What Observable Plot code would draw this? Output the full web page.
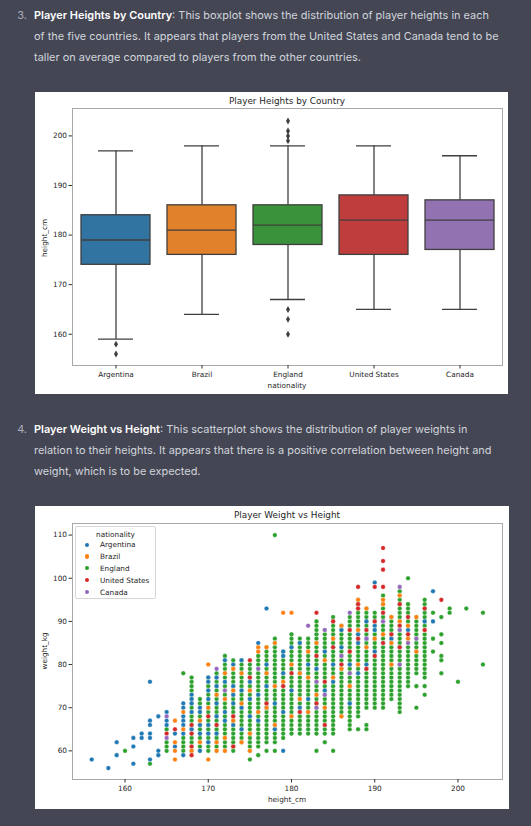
<!DOCTYPE html>
<html><head><meta charset="utf-8">
<script src="https://cdn.jsdelivr.net/npm/d3@7"></script>
<script src="https://cdn.jsdelivr.net/npm/@observablehq/plot@0.6"></script>
<style>
html,body{margin:0;padding:0;background:#444654;width:531px;height:826px;overflow:hidden;position:relative;}
.txt{position:absolute;left:34px;color:#d1d5db;font-family:Inter,"Noto Sans",sans-serif;font-size:10.95px;line-height:21px;white-space:nowrap;}
.txt b{color:#fff;font-weight:600;}
.num{position:absolute;left:12px;width:15px;text-align:right;color:#acacbe;font-family:Inter,"Noto Sans",sans-serif;font-size:10.95px;line-height:21px;}
.card{position:absolute;background:#fff;}
.card svg{position:absolute;left:0;top:0;}
.lab{position:absolute;font-family:'DejaVu Sans',sans-serif;color:#262626;white-space:nowrap;transform:translate(-50%,-50%);}
.legend{position:absolute;border:1px solid #d6d6d6;border-radius:2px;background:rgba(255,255,255,0.85);font-family:'DejaVu Sans',sans-serif;font-size:7.3px;color:#262626;}
.legend .row{position:absolute;left:0;white-space:nowrap;}
.legend .dot{position:absolute;width:4.4px;height:4.4px;border-radius:50%;}
</style>
</head>
<body>
<div class="num" style="top:5px">3.</div>
<div class="txt" style="top:5px"><b>Player Heights by Country</b>: This boxplot shows the distribution of player heights in each<br>of the five countries. It appears that players from the United States and Canada tend to be<br>taller on average compared to players from the other countries.</div>

<div class="card" id="box" style="left:35px;top:92px;width:473px;height:302px;"></div>

<div class="num" style="top:419px">4.</div>
<div class="txt" style="top:419px"><b>Player Weight vs Height</b>: This scatterplot shows the distribution of player weights in<br>relation to their heights. It appears that there is a positive correlation between height and<br>weight, which is to be expected.</div>

<div class="card" id="scatter" style="left:35px;top:506px;width:474px;height:303px;"></div>

<script>
// ---------- Boxplot data ----------
const countries = ["Argentina", "Brazil", "England", "United States", "Canada"];
const boxColors = ["#3274a1", "#e1812c", "#3a923a", "#c03d3e", "#9372b2"];
const whiskerLow = [159, 164, 167, 165, 165];
const q1 = [174, 176, 178, 176, 177];
const median = [179, 181, 182, 183, 183];
const q3 = [184, 186, 186, 188, 187];
const whiskerHigh = [197, 198, 198, 198, 196];
const outlierCountry = ["Argentina", "Argentina", "England", "England", "England", "England", "England", "England", "England"];
const outlierHeight = [158, 156, 203, 201, 200, 199, 165, 163, 160];
const boxHeightTicks = [160, 170, 180, 190, 200];

// ---------- Scatter data ----------
const scatterColors = ["#1f77b4", "#ff7f0e", "#2ca02c", "#d62728", "#9467bd"];
const weightTicks = [60, 70, 80, 90, 100, 110];
const scatterHeightTicks = [160, 170, 180, 190, 200];
// England: contiguous columns of dots [height, lowest weight, highest weight]
const englandRuns = [
  [165,60,62],[167,60,63],[168,60,77],[169,60,72],[170,60,77],[171,60,78],[172,60,82],
  [173,60,81],[174,62,81],[175,60,80],[176,61,82],[177,62,84],[178,62,86],[179,63,83],
  [180,64,87],[181,64,86],[182,64,86],[183,64,90],[184,64,88],[185,64,91],[186,68,89],
  [187,65,91],[188,68,95],[189,70,93],[190,70,92],[191,70,96],[192,72,91],[193,69,97],
  [194,75,94],[195,78,91],[196,77,95]
];
// England: isolated dots [height, weight]
const englandSingles = [
  [160,60],[163,57],[165,65],[167,78],[175,58],[176,59],[177,60],[178,60],[178,110],
  [183,60],[184,62],[185,60],[188,65],[189,66],[189,65],[194,100],[195,75],[195,70],
  [196,75],[196,73],[197,92],[197,86],[197,83],[198,91],[198,87],[198,85],[198,82],
  [198,81],[198,78],[199,93],[199,92],[200,76],[201,93],[203,92],[203,80]
];
// Other countries: [height, [weights...]]
const argentinaPts = [
  [156,[58]],[158,[56]],[159,[62,59]],[161,[63,61,57]],[162,[64,63]],[163,[76,67,66,64,63,58]],
  [164,[68,60,59]],[165,[69,67,66]],[166,[64,61]],[167,[71,70,68,67,66,64,59]],
  [168,[73,72,71,69,65]],[169,[70,69,66,64,60]],[170,[77,76,74,72,70,66,64,62]],
  [171,[77,75,71,68,64]],[172,[81,76,72,69,67]],[173,[80,75,73,71,66]],[174,[81,74,70,65]],
  [175,[76,72,68]],[176,[85,73,67]],[177,[93,80,75,70]],[178,[71,65]],[179,[83,82,78,69,60]],
  [180,[84,74]],[181,[85,78,70]],[182,[80,72]],[183,[79]],[184,[83,74]],[185,[80,76]],
  [186,[88,84]],[187,[80,71]],[188,[87,85,78]],[189,[90,86,80]],[190,[99,89,88,83]],
  [191,[85]],[192,[86]],[193,[84]],[194,[88]],[196,[90]],[197,[97,90]]
];
const brazilPts = [
  [166,[67,62,60,58]],[167,[69,65]],[168,[60]],[169,[67,62]],[170,[80,70,58]],[171,[73,62,60]],
  [172,[78,72,63,60]],[173,[79,74,67]],[174,[78,71,62]],[175,[74,64,60]],[176,[84,83,69]],
  [177,[84,78,70]],[178,[85,75,66]],[179,[92,76]],[180,[92,80,68]],[181,[78,72]],
  [182,[83,77,69]],[183,[85,73]],[184,[81,70]],[185,[86,77]],[186,[89,79,68]],[187,[83,75]],
  [188,[95,88,80]],[189,[93,84]],[190,[86]],[191,[95,94,87]],[192,[91,85,80]],[193,[96,90]],
  [194,[89,86]],[195,[91,83]],[196,[88]]
];
const usaPts = [
  [165,[64]],[166,[65]],[168,[66,64,61,59]],[170,[68]],[171,[66]],[173,[68,61]],[175,[81,77]],
  [177,[71]],[179,[75]],[180,[78]],[181,[69]],[183,[92,82,71]],[184,[76,66]],[185,[90,84]],
  [186,[80]],[187,[88,83]],[188,[98,94,93,86]],[189,[88,79]],[190,[98,90,82]],
  [191,[107,104,102,98,92,85]],[192,[87]],[193,[94,89,84]],[194,[91,87]],[196,[93,88]],[198,[95]]
];
const canadaPts = [
  [165,[68,63]],[171,[79]],[172,[74]],[176,[79]],[182,[89]],[183,[76,70]],[184,[88,73]],
  [186,[82]],[187,[92,78]],[189,[86]],[191,[90]],[193,[98,88,80]],[194,[85]],[195,[86]]
];

// ---------- Build tables ----------
const stats = countries.map((c, i) => ({country: c, lo: whiskerLow[i], q1: q1[i], med: median[i], q3: q3[i], hi: whiskerHigh[i]}));
const outliers = outlierHeight.map((h, i) => ({country: outlierCountry[i], h}));

const pts = [];
for (const [h, a, b] of englandRuns) for (let w = a; w <= b; w++) pts.push({h, w, nat: "England"});
for (const [h, w] of englandSingles) pts.push({h, w, nat: "England"});
const addPts = (list, nat) => { for (const [h, ws] of list) for (const w of ws) pts.push({h, w, nat}); };
addPts(argentinaPts, "Argentina");
addPts(brazilPts, "Brazil");
addPts(usaPts, "United States");
addPts(canadaPts, "Canada");

const ink = "#3f3f3f";
const font = {fontFamily: "'DejaVu Sans', sans-serif", fontSize: "7.3px", color: "#262626", background: "white", overflow: "visible"};

// ---------- Boxplot ----------
const box = Plot.plot({
  width: 473, height: 302,
  marginLeft: 37, marginRight: 6, marginTop: 16, marginBottom: 29,
  style: font,
  x: {domain: countries, paddingInner: 0.2, paddingOuter: 0.1, label: null},
  y: {domain: [153.69, 205.53], label: null},
  color: {domain: countries, range: boxColors},
  marks: [
    Plot.ruleX(stats, {x: "country", y1: "lo", y2: "q1", stroke: ink, strokeWidth: 1.3}),
    Plot.ruleX(stats, {x: "country", y1: "q3", y2: "hi", stroke: ink, strokeWidth: 1.3}),
    Plot.tickY(stats, {x: "country", y: "lo", stroke: ink, strokeWidth: 1.3, insetLeft: 17, insetRight: 17}),
    Plot.tickY(stats, {x: "country", y: "hi", stroke: ink, strokeWidth: 1.3, insetLeft: 17, insetRight: 17}),
    Plot.barY(stats, {x: "country", y1: "q1", y2: "q3", fill: "country", stroke: ink, strokeWidth: 1.3}),
    Plot.tickY(stats, {x: "country", y: "med", stroke: ink, strokeWidth: 1.3}),
    Plot.dot(outliers, {x: "country", y: "h", symbol: "diamond", r: 2.1, fill: ink, stroke: "none"}),
    Plot.frame({stroke: "#a8a8a8", strokeWidth: 1}),
    Plot.axisY({ticks: boxHeightTicks, tickSize: 3.5, tickPadding: 2, label: null, stroke: "#333"}),
    Plot.axisX({tickSize: 3.5, tickPadding: 2.5, label: null, stroke: "#333"})
  ]
});
const boxCard = document.getElementById("box");
boxCard.appendChild(box);

// ---------- Scatter ----------
const sc = Plot.plot({
  width: 474, height: 303,
  marginLeft: 37, marginRight: 7, marginTop: 17, marginBottom: 30,
  style: font,
  x: {domain: [153.69, 205.35], label: null},
  y: {domain: [53.36, 112.69], label: null},
  color: {domain: countries, range: scatterColors},
  marks: [
    Plot.dot(pts, {x: "h", y: "w", fill: "nat", r: 2.3, stroke: "white", strokeWidth: 0.35}),
    Plot.frame({stroke: "#a8a8a8", strokeWidth: 1}),
    Plot.axisY({ticks: weightTicks, tickSize: 3.5, tickPadding: 2, label: null, stroke: "#333"}),
    Plot.axisX({ticks: scatterHeightTicks, tickSize: 3.5, tickPadding: 2.5, label: null, stroke: "#333"})
  ]
});
const scCard = document.getElementById("scatter");
scCard.appendChild(sc);

// ---------- Titles / axis labels (HTML) ----------
function lab(card, text, x, y, size, rot) {
  const d = document.createElement("div");
  d.className = "lab";
  d.textContent = text;
  d.style.left = x + "px"; d.style.top = y + "px"; d.style.fontSize = size + "px";
  if (rot) d.style.transform = "translate(-50%,-50%) rotate(-90deg)";
  card.appendChild(d);
}
lab(boxCard, "Player Heights by Country", 252, 9, 8.9);
lab(boxCard, "nationality", 252, 293, 7.3);
lab(boxCard, "height_cm", 9, 146, 7.3, true);
lab(scCard, "Player Weight vs Height", 252, 9, 8.9);
lab(scCard, "height_cm", 252, 293, 7.3);
lab(scCard, "weight_kg", 9, 145, 7.3, true);

// ---------- Legend (HTML) ----------
const lg = document.createElement("div");
lg.className = "legend";
lg.style.left = "40px"; lg.style.top = "20px"; lg.style.width = "79px"; lg.style.height = "71px";
const lt = document.createElement("div");
lt.className = "row"; lt.textContent = "nationality";
lt.style.left = "0"; lt.style.width = "79px"; lt.style.textAlign = "center"; lt.style.top = "3px";
lg.appendChild(lt);
countries.forEach((c, i) => {
  const dot = document.createElement("div");
  dot.className = "dot"; dot.style.background = scatterColors[i];
  dot.style.left = "9px"; dot.style.top = (15.5 + i * 11.8) + "px";
  lg.appendChild(dot);
  const t = document.createElement("div");
  t.className = "row"; t.textContent = c;
  t.style.left = "24px"; t.style.top = (13.3 + i * 11.8) + "px";
  lg.appendChild(t);
});
scCard.appendChild(lg);
</script>
</body></html>
